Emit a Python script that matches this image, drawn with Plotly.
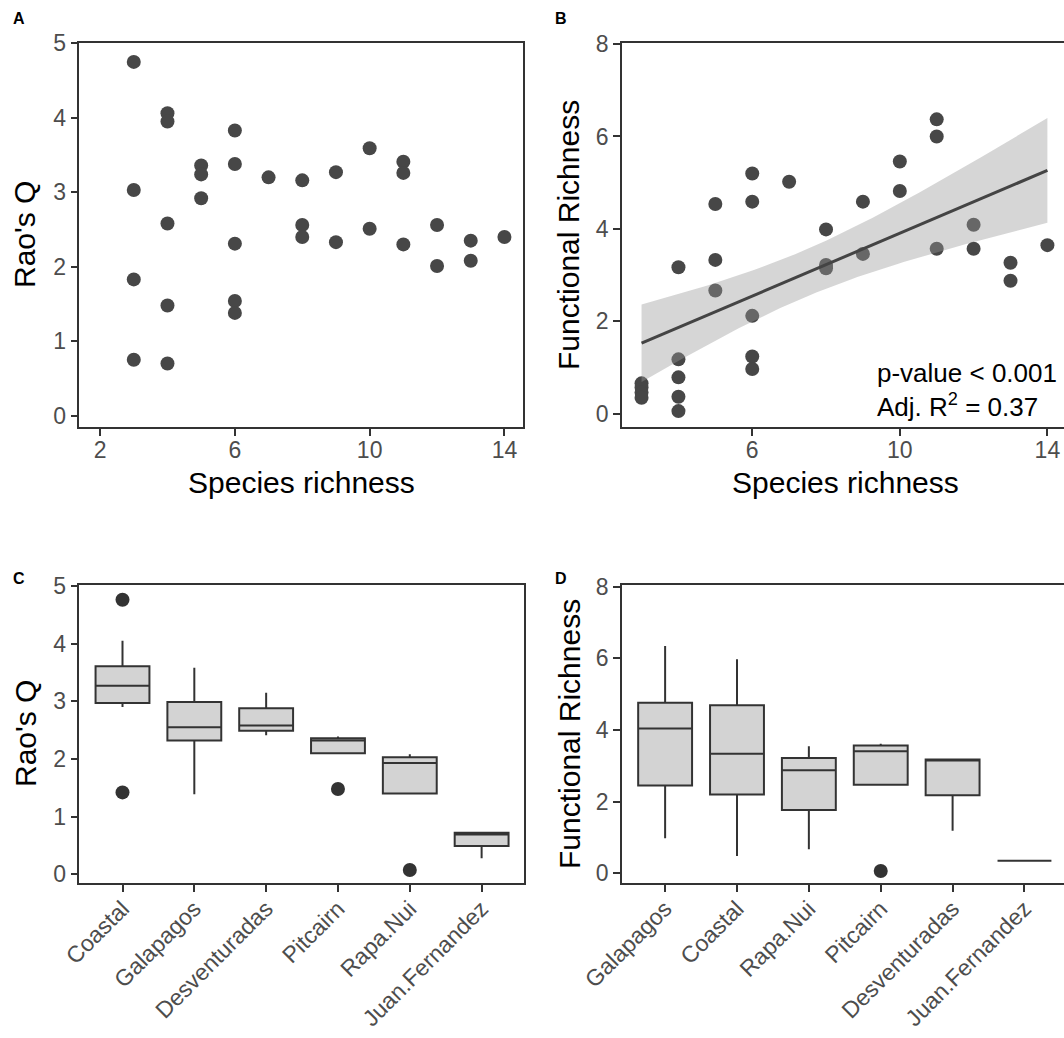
import numpy as np
import plotly.graph_objects as go

# ---------------- data ----------------
# Panel A/B: species richness per site with Rao's Q and functional richness
richness = [3, 3, 3, 3,
            4, 4, 4, 4, 4,
            5, 5, 5,
            6, 6, 6, 6, 6,
            7,
            8, 8, 8,
            9, 9,
            10, 10,
            11, 11, 11,
            12, 12,
            13, 13,
            14]
raos_q = [4.75, 3.03, 1.83, 0.75,
          4.06, 3.95, 2.58, 1.48, 0.70,
          3.36, 3.24, 2.92,
          3.83, 3.38, 2.31, 1.54, 1.38,
          3.20,
          3.16, 2.56, 2.40,
          3.27, 2.33,
          3.59, 2.51,
          3.41, 3.26, 2.30,
          2.56, 2.01,
          2.35, 2.08,
          2.40]
func_rich = [0.66, 0.57, 0.46, 0.35,
             3.17, 1.18, 0.79, 0.37, 0.06,
             4.54, 3.33, 2.67,
             5.20, 4.59, 2.12, 1.24, 0.97,
             5.02,
             3.99, 3.22, 3.15,
             4.59, 3.46,
             5.46, 4.82,
             6.37, 6.00, 3.57,
             4.09, 3.57,
             3.27, 2.88,
             3.65]

# Panel C: Rao's Q by region (box statistics)
regions_c = ["Coastal", "Galapagos", "Desventuradas", "Pitcairn", "Rapa.Nui", "Juan.Fernandez"]
c_lower = [2.90, 1.39, 2.41, 2.10, 1.40, 0.28]
c_q1 = [2.97, 2.32, 2.49, 2.10, 1.40, 0.49]
c_median = [3.27, 2.55, 2.58, 2.32, 1.93, 0.69]
c_q3 = [3.61, 2.99, 2.88, 2.36, 2.03, 0.72]
c_upper = [4.05, 3.58, 3.15, 2.39, 2.08, 0.74]
c_out_region = ["Coastal", "Coastal", "Pitcairn", "Rapa.Nui"]
c_out_value = [4.76, 1.42, 1.48, 0.075]

# Panel D: functional richness by region (box statistics)
regions_d = ["Galapagos", "Coastal", "Rapa.Nui", "Pitcairn", "Desventuradas", "Juan.Fernandez"]
d_lower = [0.98, 0.48, 0.67, 2.47, 1.19, 0.35]
d_q1 = [2.45, 2.20, 1.77, 2.47, 2.18, 0.35]
d_median = [4.04, 3.34, 2.88, 3.41, 3.16, 0.35]
d_q3 = [4.76, 4.69, 3.22, 3.57, 3.18, 0.35]
d_upper = [6.35, 5.98, 3.55, 3.62, 3.18, 0.35]
d_out_region = ["Pitcairn"]
d_out_value = [0.065]

p_label = "p-value < 0.001"
r2_label = "Adj. R<sup>2</sup> = 0.37"

# ---------------- styling ----------------
W, H = 1064, 1038
FONT = "Liberation Sans, Arial, sans-serif"
PT_COL = "#474747"
LINE_COL = "#333333"
TICK_COL = "#4d4d4d"


def xd(a, b):
    return [a / W, min(b / W, 1.0)]


def yd(top, bottom):
    return [1 - bottom / H, 1 - top / H]


fig = go.Figure()

# Panel A
fig.add_trace(go.Scatter(x=richness, y=raos_q, mode="markers",
                         marker=dict(size=14, color=PT_COL),
                         xaxis="x", yaxis="y", showlegend=False))

# Panel B: points, then linear fit with 95% confidence band on top
fig.add_trace(go.Scatter(x=richness, y=func_rich, mode="markers",
                         marker=dict(size=14, color=PT_COL),
                         xaxis="x2", yaxis="y2", showlegend=False))

xr = np.asarray(richness, float)
yr = np.asarray(func_rich, float)
n = len(xr)
slope, intercept = np.polyfit(xr, yr, 1)
resid = yr - (intercept + slope * xr)
s = np.sqrt(np.sum(resid ** 2) / (n - 2))
sxx = np.sum((xr - xr.mean()) ** 2)
t_crit = 2.0395  # two-sided 95% t quantile, df = 31
xg = np.linspace(xr.min(), xr.max(), 80)
fit = intercept + slope * xg
se = s * np.sqrt(1 / n + (xg - xr.mean()) ** 2 / sxx)
lo, hi = fit - t_crit * se, fit + t_crit * se

fig.add_trace(go.Scatter(x=np.concatenate([xg, xg[::-1]]),
                         y=np.concatenate([hi, lo[::-1]]),
                         fill="toself", fillcolor="rgba(153,153,153,0.4)",
                         line=dict(width=0), mode="lines",
                         xaxis="x2", yaxis="y2", showlegend=False, hoverinfo="skip"))
fig.add_trace(go.Scatter(x=xg, y=fit, mode="lines",
                         line=dict(color="#444444", width=3),
                         xaxis="x2", yaxis="y2", showlegend=False))

# Panel C
fig.add_trace(go.Box(x=regions_c, q1=c_q1, median=c_median, q3=c_q3,
                     lowerfence=c_lower, upperfence=c_upper,
                     boxpoints=False, width=0.75, whiskerwidth=0,
                     fillcolor="#d3d3d3", line=dict(color=LINE_COL, width=2),
                     xaxis="x3", yaxis="y3", showlegend=False))
fig.add_trace(go.Scatter(x=c_out_region, y=c_out_value, mode="markers",
                         marker=dict(size=14, color="#333333"),
                         xaxis="x3", yaxis="y3", showlegend=False))

# Panel D
fig.add_trace(go.Box(x=regions_d, q1=d_q1, median=d_median, q3=d_q3,
                     lowerfence=d_lower, upperfence=d_upper,
                     boxpoints=False, width=0.75, whiskerwidth=0,
                     fillcolor="#d3d3d3", line=dict(color=LINE_COL, width=2),
                     xaxis="x4", yaxis="y4", showlegend=False))
fig.add_trace(go.Scatter(x=d_out_region, y=d_out_value, mode="markers",
                         marker=dict(size=14, color="#333333"),
                         xaxis="x4", yaxis="y4", showlegend=False))

axis_common = dict(showline=True, mirror=True, linecolor=LINE_COL, linewidth=1.6,
                   ticks="outside", ticklen=7, tickwidth=1.5, tickcolor=LINE_COL,
                   showgrid=False, zeroline=False, automargin=False,
                   tickfont=dict(family=FONT, size=23, color=TICK_COL))
x_common = dict(axis_common, ticklabelstandoff=-6)

fig.update_layout(
    width=W, height=H, margin=dict(l=0, r=0, t=0, b=0),
    paper_bgcolor="white", plot_bgcolor="white",
    xaxis=dict(x_common, domain=xd(79.4, 523.3), range=[1.386, 14.56],
               tickvals=[2, 6, 10, 14], anchor="y"),
    yaxis=dict(axis_common, domain=yd(43.3, 427.3), range=[-0.156, 5.0],
               tickvals=[0, 1, 2, 3, 4, 5], anchor="x"),
    xaxis2=dict(x_common, domain=xd(622, 1064), range=[2.47, 14.45],
                tickvals=[6, 10, 14], anchor="y2"),
    yaxis2=dict(axis_common, domain=yd(43.3, 427.3), range=[-0.29, 8.015],
                tickvals=[0, 2, 4, 6, 8], anchor="x2"),
    xaxis3=dict(x_common, domain=xd(79.4, 524), range=[-0.6, 5.59],
                type="category", categoryorder="array", categoryarray=regions_c,
                tickangle=-45, anchor="y3"),
    yaxis3=dict(axis_common, domain=yd(585, 883.3), range=[-0.156, 5.017],
                tickvals=[0, 1, 2, 3, 4, 5], anchor="x3"),
    xaxis4=dict(x_common, domain=xd(622, 1064), range=[-0.6, 5.55],
                type="category", categoryorder="array", categoryarray=regions_d,
                tickangle=-45, anchor="y4"),
    yaxis4=dict(axis_common, domain=yd(585, 883.3), range=[-0.28, 8.05],
                tickvals=[0, 2, 4, 6, 8], anchor="x4"),
)


def paper_text(text, x, y, size, xanchor="center", angle=0, color="black"):
    return dict(text=text, x=x / W, y=1 - y / H, xref="paper", yref="paper",
                showarrow=False, xanchor=xanchor, yanchor="middle", textangle=angle,
                font=dict(family=FONT, size=size, color=color))


annotations = [
    # panel tags
    paper_text("<b>A</b>", 19, 18, 16),
    paper_text("<b>B</b>", 561, 18, 16),
    paper_text("<b>C</b>", 19, 578, 16),
    paper_text("<b>D</b>", 561, 578, 16),
    # axis titles
    paper_text("Species richness", 301, 482, 30),
    paper_text("Species richness", 845, 482, 30),
    paper_text("Rao's Q", 25, 235, 30, angle=-90),
    paper_text("Functional Richness", 569, 235, 30, angle=-90),
    paper_text("Rao's Q", 25, 734, 30, angle=-90),
    paper_text("Functional Richness", 569, 734, 30, angle=-90),
    # model summary
    paper_text(p_label, 875, 373, 26, xanchor="left"),
    paper_text(r2_label, 875, 405, 26, xanchor="left"),
]
fig.update_layout(annotations=annotations)

fig.write_html("out.html")
